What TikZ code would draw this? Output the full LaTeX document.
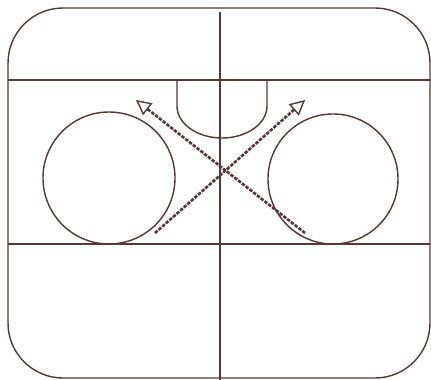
\documentclass[tikz,border=0pt]{standalone}
\usetikzlibrary{arrows.meta}
\definecolor{court}{RGB}{85,55,55}
\tikzset{
  courtline/.style={draw=court, line width=1.4pt},
  runline/.style={draw=court, line width=2.6pt, dash pattern=on 3.5pt off 1.3pt,
    -{Triangle[open, length=15pt, width=15pt, line width=1.4pt, fill=white]}},
}
\begin{document}
\begin{tikzpicture}[x=1pt,y=-1pt]
\useasboundingbox (0,0) rectangle (431,380);
% outline of the court
\draw[courtline, rounded corners=55pt] (8,8) rectangle (430,378);
\draw[courtline] (8,80) -- (430,80);
\draw[courtline] (8,244) -- (430,244);
\draw[courtline] (220,12) -- (220,380);

% the U under the top line
\draw[courtline] (177,80) -- (177,106) arc[start angle=180, end angle=0, x radius=45, y radius=32] -- (267,80);

% the two circles
\draw[courtline] (109,178) circle[radius=66];
\draw[courtline] (333,179) circle[radius=65];

% crossing runs
\coordinate (startL) at (155,233);
\coordinate (endR) at (305,100);
\coordinate (startR) at (305,233);
\coordinate (endL) at (136,100);
\draw[runline] (startL) -- (endR);
\draw[runline] (startR) -- (endL);
\end{tikzpicture}
\end{document}
